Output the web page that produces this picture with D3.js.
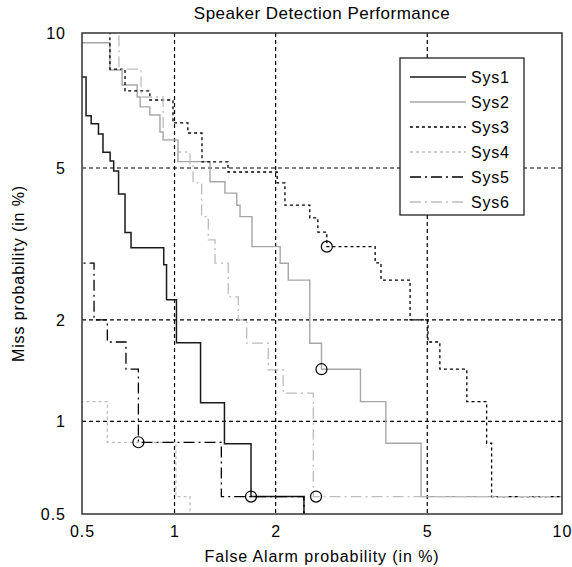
<!DOCTYPE html>
<html>
<head>
<meta charset="utf-8">
<script src="https://cdn.jsdelivr.net/npm/d3@7"></script>
<style>
  body { margin: 0; background: #fff; }
  text { font-family: "Liberation Sans", Arial, Helvetica, sans-serif; fill: #000; }
</style>
</head>
<body>
<div id="chart"></div>
<script>
// tick values (in %)
var faTicks = [0.5, 1, 2, 5, 10];
var missTicks = [0.5, 1, 2, 5, 10];
var tickLabels = ["0.5", "1", "2", "5", "10"];

var sysNames = ["Sys1", "Sys2", "Sys3", "Sys4", "Sys5", "Sys6"];

// step curves: [false alarm %, miss %], each point starts a horizontal run
var sys1 = [[0.45, 8.08], [0.516, 6.63], [0.537, 6.35], [0.568, 6.02], [0.588, 5.45], [0.621, 5.20],
    [0.638, 4.92], [0.662, 4.32], [0.695, 3.45], [0.727, 3.15], [0.925, 2.84], [0.944, 2.28],
    [1.014, 1.72], [1.203, 1.14], [1.42, 0.85], [1.70, 0.572], [2.40, 0.40]];
var sys2 = [[0.45, 9.55], [0.620, 8.36], [0.680, 7.76], [0.761, 7.30], [0.778, 6.94], [0.836, 6.65],
    [0.900, 6.08], [0.921, 5.83], [1.025, 5.18], [1.285, 4.63], [1.425, 4.34], [1.544, 4.05],
    [1.579, 3.79], [1.711, 3.17], [2.06, 2.865], [2.171, 2.58], [2.49, 1.716], [2.68, 1.44],
    [3.40, 1.15], [3.95, 0.853], [4.83, 0.572], [10.5, 0.572]];
var sys3 = [[0.45, 11], [0.620, 8.40], [0.695, 7.53], [0.836, 7.19], [0.989, 6.38], [1.10, 6.05],
    [1.215, 5.17], [1.455, 4.89], [2.02, 4.60], [2.125, 4.05], [2.49, 3.76], [2.62, 3.46],
    [2.77, 3.17], [3.71, 2.87], [3.84, 2.58], [4.54, 2.00], [5.02, 1.73], [5.36, 1.44],
    [6.20, 1.15], [6.88, 0.853], [7.06, 0.572], [10.5, 0.572]];
var sys4 = [[0.45, 1.15], [0.608, 0.859], [1.010, 0.572], [1.117, 0.40]];
var sys5 = [[0.45, 2.865], [0.549, 2.00], [0.608, 1.73], [0.700, 1.44], [0.768, 0.859],
    [1.39, 0.572], [2.40, 0.40]];
var sys6 = [[0.45, 10.5], [0.664, 8.40], [0.783, 7.30], [0.921, 5.83], [1.025, 5.46], [1.117, 5.08],
    [1.141, 4.60], [1.212, 3.79], [1.270, 3.30], [1.331, 2.865], [1.457, 2.32], [1.560, 2.00],
    [1.651, 1.716], [1.906, 1.433], [2.10, 1.22], [2.546, 0.572], [10.5, 0.572]];

// circled operating points
var sysMarks = [[1.70, 0.572], [2.68, 1.44], [2.77, 3.17], null, [0.768, 0.859], [2.59, 0.572]];

var sysData = [sys1, sys2, sys3, sys4, sys5, sys6];
var sysColor = ["#1a1a1a", "#a6a6a6", "#000", "#bdbdbd", "#000", "#bdbdbd"];
var sysDash = [null, null, "3,3", "3,3", "11,4,2,4", "11,4,2,4"];
var sysWidth = [1.5, 1.4, 1.3, 1.3, 1.3, 1.3];

// inverse normal cdf (Acklam)
function probit(p) {
    var a = [-3.969683028665376e+01, 2.209460984245205e+02, -2.759285104469687e+02, 1.383577518672690e+02, -3.066479806614716e+01, 2.506628277459239e+00];
    var b = [-5.447609879822406e+01, 1.615858368580409e+02, -1.556989798598866e+02, 6.680131188771972e+01, -1.328068155288572e+01];
    var c = [-7.784894002430293e-03, -3.223964580411365e-01, -2.400758277161838e+00, -2.549671750283036e+00, 4.374664141464968e+00, 2.938163982698783e+00];
    var d = [7.784695709041462e-03, 3.224671290700398e-01, 2.445134137142996e+00, 3.754408661907416e+00];
    var q, r;
    if (p < 0.02425) {
        q = Math.sqrt(-2 * Math.log(p));
        return (((((c[0] * q + c[1]) * q + c[2]) * q + c[3]) * q + c[4]) * q + c[5]) /
            ((((d[0] * q + d[1]) * q + d[2]) * q + d[3]) * q + 1);
    }
    if (p > 1 - 0.02425) {
        q = Math.sqrt(-2 * Math.log(1 - p));
        return -(((((c[0] * q + c[1]) * q + c[2]) * q + c[3]) * q + c[4]) * q + c[5]) /
            ((((d[0] * q + d[1]) * q + d[2]) * q + d[3]) * q + 1);
    }
    q = p - 0.5;
    r = q * q;
    return (((((a[0] * r + a[1]) * r + a[2]) * r + a[3]) * r + a[4]) * r + a[5]) * q /
        (((((b[0] * r + b[1]) * r + b[2]) * r + b[3]) * r + b[4]) * r + 1);
}
function nd(pct) { return probit(pct / 100); }

var margin = {top: 33, right: 10, bottom: 53, left: 82},
    width = 480,
    height = 481;

var svg = d3.select("#chart")
    .append("svg")
    .attr("width", 572)
    .attr("height", 567);

var g = svg.append("g")
    .attr("transform", "translate(" + margin.left + "," + margin.top + ")");

// normal deviate scales
var x = d3.scaleLinear().domain([nd(0.5), nd(10)]).range([0, width]);
var y = d3.scaleLinear().domain([nd(0.5), nd(10)]).range([height, 0]);

g.append("defs").append("clipPath")
    .attr("id", "plotclip")
    .append("rect")
    .attr("width", width)
    .attr("height", height);

// grid
g.append("g")
    .selectAll("line")
    .data(faTicks.slice(1, -1))
    .enter()
    .append("line")
    .attr("x1", function (d) { return x(nd(d)); })
    .attr("x2", function (d) { return x(nd(d)); })
    .attr("y1", 0)
    .attr("y2", height)
    .style("stroke", "#000")
    .style("stroke-width", 1.2)
    .style("stroke-dasharray", "4,3");
g.append("g")
    .selectAll("line")
    .data(missTicks.slice(1, -1))
    .enter()
    .append("line")
    .attr("y1", function (d) { return y(nd(d)); })
    .attr("y2", function (d) { return y(nd(d)); })
    .attr("x1", 0)
    .attr("x2", width)
    .style("stroke", "#000")
    .style("stroke-width", 1.2)
    .style("stroke-dasharray", "4,3");

// curves
var line = d3.line()
    .x(function (d) { return x(nd(d[0])); })
    .y(function (d) { return y(nd(d[1])); })
    .curve(d3.curveStepAfter);

var curves = g.append("g").attr("clip-path", "url(#plotclip)");
sysData.forEach(function (data, i) {
    curves.append("path")
        .datum(data)
        .attr("d", line)
        .style("fill", "none")
        .style("stroke", sysColor[i])
        .style("stroke-width", sysWidth[i])
        .style("stroke-dasharray", sysDash[i]);
    if (sysMarks[i]) {
        curves.append("circle")
            .attr("cx", x(nd(sysMarks[i][0])))
            .attr("cy", y(nd(sysMarks[i][1])))
            .attr("r", 5.5)
            .style("fill", "none")
            .style("stroke", "#000")
            .style("stroke-width", 1.2);
    }
});

// box
g.append("rect")
    .attr("width", width)
    .attr("height", height)
    .style("fill", "none")
    .style("stroke", "#333")
    .style("stroke-width", 1.5);

// axes
var xAxis = g.append("g")
    .attr("transform", "translate(0," + height + ")")
    .call(d3.axisBottom(x)
        .tickValues(faTicks.map(nd))
        .tickFormat(function (d, i) { return tickLabels[i]; })
        .tickSize(0)
        .tickPadding(12));
var yAxis = g.append("g")
    .call(d3.axisLeft(y)
        .tickValues(missTicks.map(nd))
        .tickFormat(function (d, i) { return tickLabels[i]; })
        .tickSize(0)
        .tickPadding(16));
[xAxis, yAxis].forEach(function (a) {
    a.select(".domain").remove();
    a.selectAll("text")
        .style("font-size", "16px")
        .style("letter-spacing", "1px")
        .attr("fill", "#000");
});

// legend
var legend = svg.append("g");
legend.append("rect")
    .attr("x", 400)
    .attr("y", 58)
    .attr("width", 124)
    .attr("height", 157)
    .style("fill", "#fff")
    .style("stroke", "#222")
    .style("stroke-width", 1.3);
sysNames.forEach(function (name, i) {
    var ly = 77 + i * 25;
    legend.append("line")
        .attr("x1", 410)
        .attr("x2", 466)
        .attr("y1", ly)
        .attr("y2", ly)
        .style("stroke", sysColor[i])
        .style("stroke-width", sysWidth[i])
        .style("stroke-dasharray", sysDash[i]);
    legend.append("text")
        .attr("x", 471)
        .attr("y", ly + 6)
        .style("font-size", "16px")
        .style("letter-spacing", "0.8px")
        .text(name);
});

// labels
svg.append("text")
    .attr("x", margin.left + width / 2)
    .attr("y", 19)
    .attr("text-anchor", "middle")
    .style("font-size", "17px")
    .style("letter-spacing", "0.5px")
    .text("Speaker Detection Performance");
svg.append("text")
    .attr("x", margin.left + width / 2)
    .attr("y", 562)
    .attr("text-anchor", "middle")
    .style("font-size", "16px")
    .style("letter-spacing", "0.9px")
    .text("False Alarm probability (in %)");
svg.append("text")
    .attr("transform", "translate(24," + (margin.top + height / 2) + ") rotate(-90)")
    .attr("text-anchor", "middle")
    .style("font-size", "16px")
    .style("letter-spacing", "0.9px")
    .text("Miss probability (in %)");
</script>
</body>
</html>
